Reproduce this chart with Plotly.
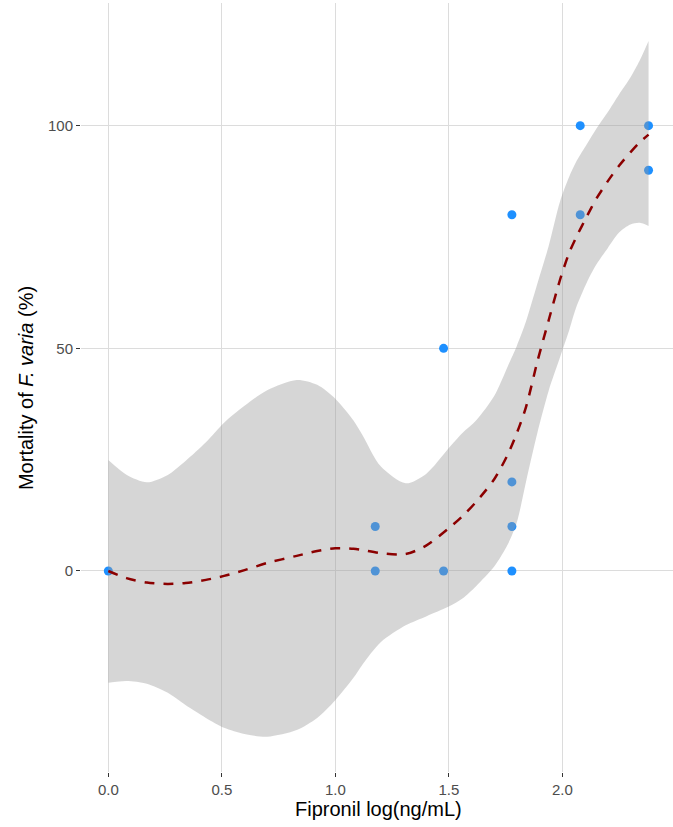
import plotly.graph_objects as go

# Observed data: log10 fipronil concentration vs. mortality (%)
dose_log = [0.0, 1.176, 1.176, 1.477, 1.477, 1.778, 1.778, 1.778, 1.778, 2.079, 2.079, 2.380, 2.380]
mortality = [0, 10, 0, 50, 0, 80, 20, 10, 0, 100, 80, 100, 90]

# Smoothed fit and its confidence band
fit_x = [0.0, 0.08, 0.17, 0.26, 0.34, 0.43, 0.51, 0.6, 0.7, 0.83, 0.92, 1.0, 1.08, 1.12, 1.2,
         1.31, 1.4, 1.5, 1.56, 1.62, 1.7, 1.76, 1.8, 1.84, 1.89, 1.94, 1.99, 2.03, 2.06, 2.11,
         2.15, 2.2, 2.25, 2.3, 2.34, 2.38]
fit_y = [0.0, -1.6, -2.6, -2.9, -2.7, -2.0, -1.1, 0.2, 1.8, 3.4, 4.5, 5.1, 5.0, 4.7, 4.0,
         3.8, 5.7, 9.6, 12.3, 15.5, 20.6, 26.2, 31.0, 36.8, 47.0, 56.3, 65.4, 71.4, 74.8, 79.8,
         83.6, 87.5, 91.0, 94.0, 96.2, 98.0]
upper_y = [24.9, 21.6, 19.9, 21.5, 24.7, 28.9, 33.3, 37.1, 40.6, 42.9, 41.8, 38.7, 33.8, 30.5, 23.5,
           19.7, 21.8, 27.6, 31.0, 33.8, 39.3, 46.0, 50.6, 56.0, 64.5, 73.0, 83.0, 88.5, 91.8, 96.0,
           99.3, 103.0, 107.0, 110.8, 114.5, 119.0]
lower_y = [-25.1, -24.7, -25.3, -27.3, -30.1, -33.0, -35.2, -36.6, -37.2, -35.7, -33.0, -29.0, -24.0, -21.0, -16.0,
           -12.2, -10.2, -8.0, -6.2, -3.4, 1.0, 6.0, 11.0, 20.0, 31.0, 40.5, 48.0, 54.0, 59.0, 65.0,
           68.8, 72.5, 76.0, 77.8, 78.2, 77.5]

x_ticks = [0.0, 0.5, 1.0, 1.5, 2.0]
y_ticks = [0, 50, 100]

FONT = "Liberation Sans, Arial, sans-serif"
SMOOTH = 0.8

fig = go.Figure()

fig.add_trace(go.Scatter(
    x=dose_log, y=mortality, mode="markers",
    marker=dict(size=9, color="#1E90FF", line=dict(width=0)),
    showlegend=False, hoverinfo="skip"))

fig.add_trace(go.Scatter(
    x=fit_x, y=lower_y, mode="lines",
    line=dict(width=0, shape="spline", smoothing=SMOOTH, color="rgba(0,0,0,0)"),
    showlegend=False, hoverinfo="skip"))

fig.add_trace(go.Scatter(
    x=fit_x, y=upper_y, mode="lines", fill="tonexty",
    fillcolor="rgba(153,153,153,0.4)",
    line=dict(width=0, shape="spline", smoothing=SMOOTH, color="rgba(0,0,0,0)"),
    showlegend=False, hoverinfo="skip"))

fig.add_trace(go.Scatter(
    x=fit_x, y=fit_y, mode="lines",
    line=dict(width=2.5, color="#8B0000", dash="10px,9px", shape="spline", smoothing=SMOOTH),
    showlegend=False, hoverinfo="skip"))

fig.update_layout(
    width=673, height=827,
    margin=dict(l=81, r=0, t=3, b=55, pad=0),
    paper_bgcolor="white", plot_bgcolor="white",
    font=dict(family=FONT, size=15, color="#4D4D4D"),
    showlegend=False,
    xaxis=dict(
        range=[-0.1203, 2.4877], tickvals=x_ticks,
        ticktext=[f"{v:.1f}" for v in x_ticks],
        showgrid=True, gridcolor="#DCDCDC", gridwidth=1.3,
        zeroline=False, showline=False,
        ticks="outside", ticklen=4, tickcolor="#333333", tickwidth=1,
        tickfont=dict(family=FONT, size=15, color="#4D4D4D"),
    ),
    yaxis=dict(
        range=[-45.14, 127.55], tickvals=y_ticks,
        ticktext=[str(v) for v in y_ticks],
        showgrid=True, gridcolor="#DCDCDC", gridwidth=1.3,
        zeroline=False, showline=False,
        ticks="outside", ticklen=4, tickcolor="#333333", tickwidth=1,
        tickfont=dict(family=FONT, size=15, color="#4D4D4D"),
    ),
    annotations=[
        dict(text="Fipronil log(ng/mL)", xref="paper", yref="paper",
             x=0.5025, y=-0.048, xanchor="center", yanchor="middle",
             showarrow=False, font=dict(family=FONT, size=20, color="#000000")),
        dict(text="Mortality of <i>F. varia</i> (%)", xref="paper", yref="paper",
             x=-0.0929, y=0.4993, xanchor="center", yanchor="middle", textangle=-90,
             showarrow=False, font=dict(family=FONT, size=20, color="#000000")),
    ],
)

fig.write_html(
    "out.html",
    config={"displayModeBar": False},
    post_script="document.body.style.margin='0';document.body.style.overflow='hidden';",
)
